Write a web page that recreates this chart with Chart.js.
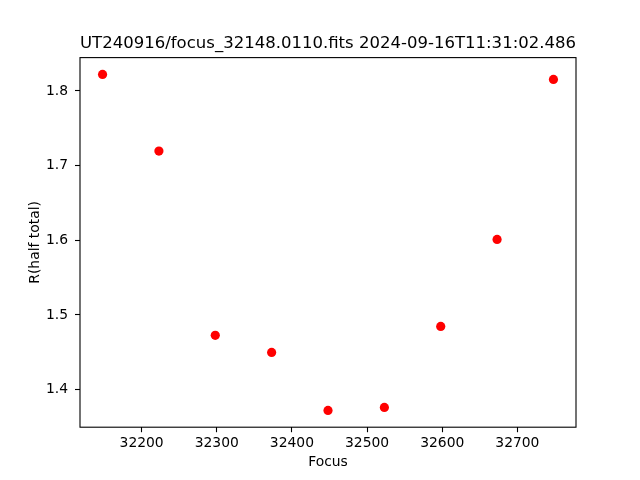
<!DOCTYPE html>
<html>
<head>
<meta charset="utf-8">
<script src="https://cdn.jsdelivr.net/npm/chart.js@4"></script>
<style>
html,body{margin:0;padding:0;background:#fff;}
canvas{display:block;}
</style>
</head>
<body>
<canvas id="c" width="640" height="480"></canvas>
<script>
const focusValues = [32148, 32223, 32298, 32373, 32448, 32523, 32598, 32673, 32748];
const radiusValues = [1.8221, 1.7194, 1.4726, 1.4498, 1.3721, 1.3761, 1.4846, 1.6011, 1.8154];
const xTickValues = [32200, 32300, 32400, 32500, 32600, 32700];
const yTickValues = [1.4, 1.5, 1.6, 1.7, 1.8];
const titleText = 'UT240916/focus_32148.0110.fits 2024-09-16T11:31:02.486';
const xLabel = 'Focus';
const yLabel = 'R(half total)';

function padRange(arr) {
  const lo = Math.min(...arr), hi = Math.max(...arr);
  const m = (hi - lo) * 0.05;
  return [lo - m, hi + m];
}
const [xMin, xMax] = padRange(focusValues);
const [yMin, yMax] = padRange(radiusValues);

const FONT = 'DejaVu Sans';

const frame = {
  id: 'frame',
  afterDraw(chart) {
    const {ctx, chartArea: a} = chart;
    ctx.save();
    ctx.strokeStyle = '#000';
    ctx.lineWidth = 1.1;
    ctx.strokeRect(a.left, a.top, a.right - a.left, a.bottom - a.top);
    ctx.restore();
  }
};

new Chart(document.getElementById('c'), {
  type: 'scatter',
  data: {
    datasets: [{
      data: focusValues.map((x, i) => ({x: x, y: radiusValues[i]})),
      backgroundColor: '#ff0000',
      borderWidth: 0,
      pointRadius: 4.6,
      pointHoverRadius: 4.6
    }]
  },
  options: {
    responsive: false,
    animation: false,
    events: [],
    layout: {padding: {left: 0, right: 64, top: 0, bottom: 0}},
    plugins: {
      legend: {display: false},
      tooltip: {enabled: false},
      title: {
        display: true,
        fullSize: false,
        text: titleText,
        color: '#000',
        font: {family: FONT, size: 16.67, weight: 'normal'},
        padding: {top: 34, bottom: 3.6}
      }
    },
    scales: {
      x: {
        type: 'linear',
        min: xMin,
        max: xMax,
        afterBuildTicks(s) { s.ticks = xTickValues.map(v => ({value: v})); },
        afterFit(s) { s.height = 52.8; },
        grid: {drawOnChartArea: false, drawTicks: true, tickLength: 5, tickColor: '#000', tickWidth: 1.1},
        border: {display: false},
        ticks: {
          color: '#000',
          font: {family: FONT, size: 13.89},
          padding: 3,
          maxRotation: 0,
          autoSkip: false,
          callback: v => String(v)
        },
        title: {
          display: true,
          text: xLabel,
          color: '#000',
          font: {family: FONT, size: 13.89},
          padding: {top: 0, bottom: 9}
        }
      },
      y: {
        type: 'linear',
        min: yMin,
        max: yMax,
        afterBuildTicks(s) { s.ticks = yTickValues.map(v => ({value: v})); },
        afterFit(s) { s.width = 80; },
        grid: {drawOnChartArea: false, drawTicks: true, tickLength: 5, tickColor: '#000', tickWidth: 1.1},
        border: {display: false},
        ticks: {
          color: '#000',
          font: {family: FONT, size: 13.89},
          padding: 7,
          autoSkip: false,
          callback: v => Number(v).toFixed(1)
        },
        title: {
          display: true,
          text: yLabel,
          color: '#000',
          font: {family: FONT, size: 13.89},
          padding: {top: 27, bottom: 0}
        }
      }
    }
  },
  plugins: [frame]
});
</script>
</body>
</html>
